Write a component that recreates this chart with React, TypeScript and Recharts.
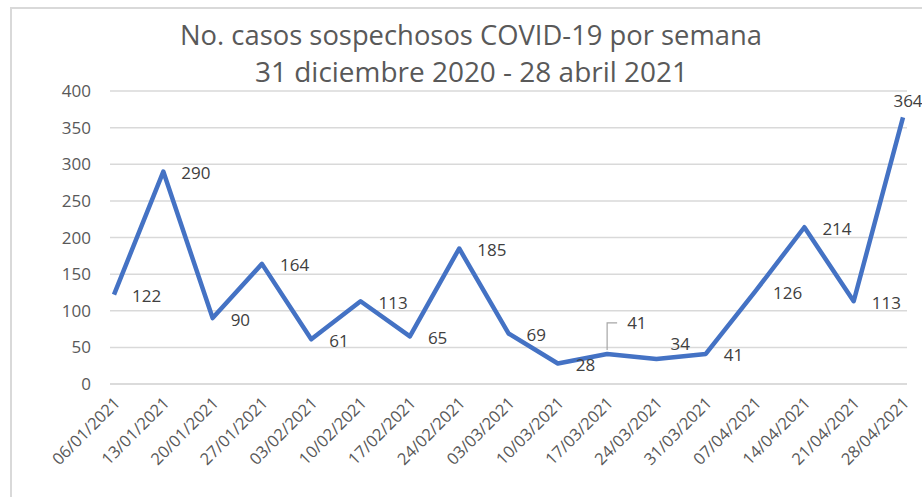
import { LineChart, Line, XAxis, YAxis, CartesianGrid, LabelList } from 'recharts';

const weeks = [
  '06/01/2021', '13/01/2021', '20/01/2021', '27/01/2021', '03/02/2021', '10/02/2021',
  '17/02/2021', '24/02/2021', '03/03/2021', '10/03/2021', '17/03/2021', '24/03/2021',
  '31/03/2021', '07/04/2021', '14/04/2021', '21/04/2021', '28/04/2021',
];
const cases = [122, 290, 90, 164, 61, 113, 65, 185, 69, 28, 41, 34, 41, 126, 214, 113, 364];
const yTicks = [0, 50, 100, 150, 200, 250, 300, 350, 400];
const titleLines = ['No. casos sospechosos  COVID-19 por semana', '31 diciembre 2020 - 28 abril 2021'];

const FONT = '"Open Sans", sans-serif';
const TEXT = '#595959';

const data = weeks.map((w, i) => ({ week: w, cases: cases[i] }));

// a few labels Excel moved away from the default right-hand spot
const labelNudge: Record<number, { dx: number; dy: number; anchor?: string; leader?: boolean }> = {
  10: { dx: 20, dy: -31, leader: true },
  11: { dx: 14, dy: -16 },
  16: { dx: 5, dy: -17, anchor: 'middle' },
};

function PointLabel(props: any) {
  const { x, y, value, index } = props;
  const n = labelNudge[index] || { dx: 18, dy: 1 };
  return (
    <g>
      {n.leader && (
        <polyline
          points={`${x},${y - 4} ${x},${y + n.dy} ${x + 10},${y + n.dy}`}
          fill="none"
          stroke="#a6a6a6"
          strokeWidth={1.2}
        />
      )}
      <text
        x={x + n.dx}
        y={y + n.dy}
        textAnchor={n.anchor || 'start'}
        dominantBaseline="central"
        fontSize={17}
        fontFamily={FONT}
        fill="#404040"
      >
        {value}
      </text>
    </g>
  );
}

function WeekTick(props: any) {
  const { x, y, payload } = props;
  return (
    <g transform={`translate(${x + 3},${y})`}>
      <text
        textAnchor="end"
        transform="rotate(-45)"
        dy="0.35em"
        fontSize={16.5}
        fontFamily={FONT}
        fill={TEXT}
      >
        {payload.value}
      </text>
    </g>
  );
}

export default function App() {
  return (
    <div style={{ position: 'absolute', left: 0, top: 0, width: 922, height: 497, background: '#fff' }}>
      <div
        style={{
          position: 'absolute',
          left: 10,
          top: 7,
          width: 930,
          height: 500,
          borderLeft: '2px solid #d9d9d9',
          borderTop: '2px solid #d9d9d9',
        }}
      />
      <svg width={922} height={100} style={{ position: 'absolute', left: 0, top: 0 }}>
        <text x={180} y={45} textLength={582} lengthAdjust="spacingAndGlyphs" fontSize={26.5} fontFamily={FONT} fill={TEXT}>
          {titleLines[0]}
        </text>
        <text x={255} y={82} textLength={433} lengthAdjust="spacingAndGlyphs" fontSize={26.5} fontFamily={FONT} fill={TEXT}>
          {titleLines[1]}
        </text>
      </svg>
      <div style={{ position: 'absolute', left: 0, top: 0 }}>
        <LineChart width={922} height={497} data={data} margin={{ top: 91, right: 15, bottom: 0, left: 0 }}>
          <CartesianGrid vertical={false} stroke="#d9d9d9" strokeWidth={1.5} />
          <XAxis
            dataKey="week"
            height={113}
            interval={0}
            tickLine={false}
            axisLine={{ stroke: '#d9d9d9', strokeWidth: 1.5 }}
            tickSize={0}
            tickMargin={16}
            padding={{ left: 4, right: 4 }}
            tick={<WeekTick />}
          />
          <YAxis
            width={110}
            domain={[0, 400]}
            ticks={yTicks}
            tickLine={false}
            axisLine={false}
            tickSize={0}
            tickMargin={19}
            tick={{ fontSize: 17, fontFamily: FONT, fill: TEXT }}
          />
          <Line
            type="linear"
            dataKey="cases"
            stroke="#4472c4"
            strokeWidth={4.5}
            strokeLinejoin="round"
            dot={false}
            isAnimationActive={false}
          >
            <LabelList dataKey="cases" content={<PointLabel />} />
          </Line>
        </LineChart>
      </div>
    </div>
  );
}
